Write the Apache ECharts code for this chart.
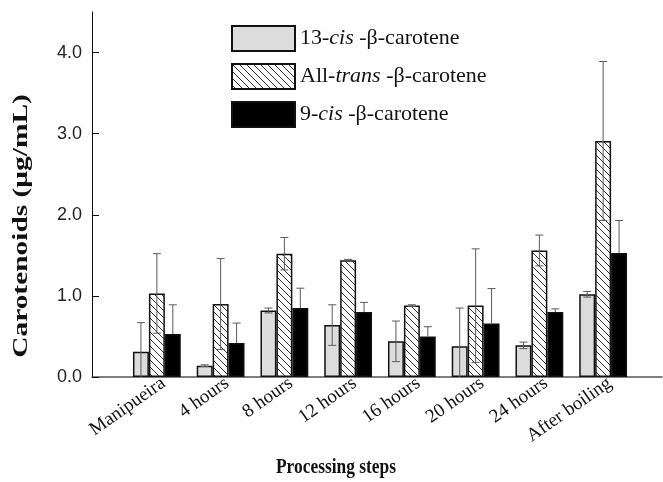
<!DOCTYPE html>
<html>
<head>
<meta charset="utf-8">
<script src="https://cdn.jsdelivr.net/npm/echarts@6/dist/echarts.min.js"></script>
<style>html,body{margin:0;padding:0;background:#fff}#c{width:663px;height:482px}</style>
</head>
<body>
<div id="c"></div>
<script>
const categories = ['Manipueira', '4 hours', '8 hours', '12 hours', '16 hours', '20 hours', '24 hours', 'After boiling'];
const seriesNames = ['13-cis -β-carotene', 'All-trans -β-carotene', '9-cis -β-carotene'];
const cis13 = [0.31, 0.14, 0.82, 0.64, 0.44, 0.38, 0.39, 1.02];
const cis13Err = [0.36, 0.01, 0.03, 0.25, 0.25, 0.47, 0.04, 0.035];
const allTrans = [1.03, 0.90, 1.52, 1.44, 0.88, 0.88, 1.56, 2.91];
const allTransErr = [0.49, 0.56, 0.20, 0.01, 0.01, 0.70, 0.19, 0.98];
const cis9 = [0.53, 0.42, 0.85, 0.80, 0.50, 0.66, 0.80, 1.53];
const cis9Err = [0.36, 0.245, 0.245, 0.12, 0.12, 0.43, 0.04, 0.40];
const yTicks = [0, 1, 2, 3, 4];

function hatch() {
  const s = 7;
  const c = document.createElement('canvas');
  c.width = s; c.height = s;
  const g = c.getContext('2d');
  g.fillStyle = '#fff'; g.fillRect(0, 0, s, s);
  g.strokeStyle = '#333'; g.lineWidth = 1;
  g.beginPath();
  g.moveTo(-1, -1); g.lineTo(s + 1, s + 1);
  g.moveTo(-1, s - 1); g.lineTo(1, s + 1);
  g.moveTo(s - 1, -1); g.lineTo(s + 1, 1);
  g.stroke();
  return c;
}

const legendRich = {
  '13-cis -β-carotene': '{n|13-}{i|cis}{n| -β-carotene}',
  'All-trans -β-carotene': '{n|All-}{i|trans}{n| -β-carotene}',
  '9-cis -β-carotene': '{n|9-}{i|cis}{n| -β-carotene}'
};

const values = [cis13, allTrans, cis9];
const errs = [cis13Err, allTransErr, cis9Err];
const fills = ['#dcdcdc', { image: hatch(), repeat: 'repeat' }, '#000'];

function makeRender(k) {
  return function (params, api) {
    const i = api.value(0), m = api.value(1), e = api.value(2);
    const base = api.coord([i, 0]);
    const band = api.size([1, 0])[0];
    const bw = band * 0.25;
    const cx = base[0] + (k - 1) * bw;
    const top = api.coord([i, m + e])[1];
    const clipped = m - e <= 0;
    let lo = clipped ? base[1] : api.coord([i, m - e])[1];
    const half = 4;
    const st = { stroke: '#5a5a5a', lineWidth: 1 };
    // lower whisker of the black bars is hidden inside the black fill
    const hiddenLower = k === 2;
    if (hiddenLower) lo = api.coord([i, m])[1];
    const children = [
      { type: 'line', shape: { x1: cx, y1: top, x2: cx, y2: lo }, style: st },
      { type: 'line', shape: { x1: cx - half, y1: top, x2: cx + half, y2: top }, style: st }
    ];
    if (!clipped && !hiddenLower) children.push({ type: 'line', shape: { x1: cx - half, y1: lo, x2: cx + half, y2: lo }, style: st });
    return { type: 'group', children };
  };
}

const series = [];
values.forEach((v, k) => {
  series.push({
    name: seriesNames[k], type: 'bar', xAxisIndex: 1, yAxisIndex: 1,
    data: v, barGap: '0%', barCategoryGap: '25%',
    itemStyle: { color: fills[k], borderColor: '#111', borderWidth: 1.5 },
    emphasis: { disabled: true }
  });
});
values.forEach((v, k) => {
  series.push({
    name: 'err' + k, type: 'custom', xAxisIndex: 1, yAxisIndex: 1, z: 5, silent: true,
    renderItem: makeRender(k),
    encode: { x: 0, y: 1 },
    data: categories.map((c, i) => [i, v[i], errs[k][i]])
  });
});

const chart = echarts.init(document.getElementById('c'), null, { renderer: 'canvas' });
chart.setOption({
  animation: false,
  backgroundColor: '#fff',
  grid: [
    { left: 92, right: 1, top: 12, bottom: 105 },
    { left: 125, right: 28, top: 12, bottom: 105 }
  ],
  xAxis: [
    { gridIndex: 0, type: 'value', min: 0, max: 1, axisLine: { show: true, lineStyle: { color: '#555', width: 1.5 } },
      axisTick: { show: false }, axisLabel: { show: false }, splitLine: { show: false } },
    { gridIndex: 1, type: 'category', data: categories, axisLine: { show: false }, axisTick: { show: false },
      axisLabel: { rotate: 35, interval: 0, margin: 9, padding: [0, -8, 0, 0], fontFamily: 'Liberation Serif', fontSize: 19, color: '#111' } }
  ],
  yAxis: [
    { gridIndex: 0, type: 'value', min: 0, max: 4.5, interval: 1,
      axisLine: { show: true, lineStyle: { color: '#111', width: 1 } },
      axisTick: { show: true, inside: true, length: 7, customValues: yTicks, lineStyle: { color: '#111' } },
      axisLabel: { customValues: yTicks, formatter: v => Number(v).toFixed(1), fontFamily: 'Liberation Sans', fontSize: 18, color: '#222', margin: 10 },
      splitLine: { show: false } },
    { gridIndex: 1, type: 'value', min: 0, max: 4.5, show: false }
  ],
  legend: {
    orient: 'vertical', left: 226, top: 20, itemWidth: 63, itemHeight: 25, itemGap: 11, icon: 'rect',
    data: seriesNames, selectedMode: false,
    formatter: name => legendRich[name],
    textStyle: {
      rich: {
        n: { fontFamily: 'Liberation Serif', fontSize: 22, lineHeight: 25, color: '#111' },
        i: { fontFamily: 'Liberation Serif', fontSize: 22, lineHeight: 25, fontStyle: 'italic', color: '#111' }
      }
    }
  },
  graphic: [
    { type: 'text', x: 336, y: 468, scaleX: 0.87, scaleY: 1.05, silent: true,
      style: { text: 'Processing steps', font: 'bold 20px "Liberation Serif"', fill: '#111', textAlign: 'center', textVerticalAlign: 'middle' } },
    { type: 'text', x: 22, y: 226, rotation: Math.PI / 2, scaleX: 1.4, silent: true,
      style: { text: 'Carotenoids (μg/mL)', font: 'bold 21px "Liberation Serif"', fill: '#111', textAlign: 'center', textVerticalAlign: 'middle' } }
  ],
  series
});
</script>
</body>
</html>
